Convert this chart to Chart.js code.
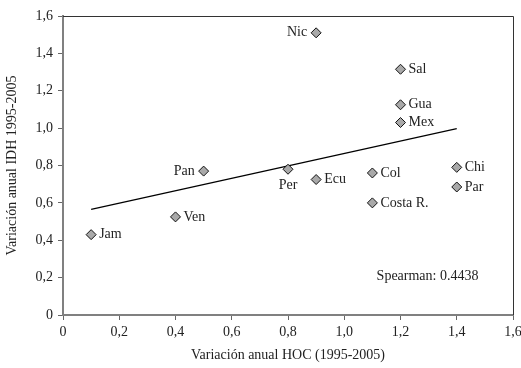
<!DOCTYPE html>
<html>
<head>
<meta charset="utf-8">
<script src="https://cdn.jsdelivr.net/npm/chart.js@4/dist/chart.umd.min.js"></script>
<style>
  html, body { margin: 0; padding: 0; background: #fff; }
  #wrap { width: 521px; height: 368px; position: relative; }
</style>
</head>
<body>
<div id="wrap"><canvas id="idhChart"></canvas></div>
<script>
'use strict';

// country labels, x = HOC annual variation, y = IDH annual variation
const countries = ['Nic', 'Sal', 'Gua', 'Mex', 'Pan', 'Per', 'Ecu', 'Col', 'Chi', 'Par', 'Costa R.', 'Ven', 'Jam'];
const hocValues = [0.9, 1.2, 1.2, 1.2, 0.5, 0.8, 0.9, 1.1, 1.4, 1.4, 1.1, 0.4, 0.1];
const idhValues = [1.51, 1.315, 1.125, 1.03, 0.77, 0.78, 0.725, 0.76, 0.79, 0.685, 0.60, 0.525, 0.43];
// where each label sits relative to its marker
const labelSides = ['left', 'right', 'right', 'right', 'left', 'below', 'right', 'right', 'right', 'right', 'right', 'right', 'right'];

const trendX = [0.1, 1.4];
const trendY = [0.565, 0.997];

const spearmanText = 'Spearman: 0.4438';

const serif = "'Liberation Serif', 'DejaVu Serif', serif";

function fmtTick(v) {
  if (v === 0) return '0';
  return v.toFixed(1).replace('.', ',');
}

const labelPlugin = {
  id: 'pointLabels',
  afterDatasetsDraw(chart) {
    const ctx = chart.ctx;
    const xs = chart.scales.x;
    const ys = chart.scales.y;
    ctx.save();
    ctx.font = '14px ' + serif;
    ctx.fillStyle = '#222';
    ctx.textBaseline = 'middle';
    countries.forEach(function (name, i) {
      const px = xs.getPixelForValue(hocValues[i]);
      const py = ys.getPixelForValue(idhValues[i]);
      if (labelSides[i] === 'left') {
        ctx.textAlign = 'right';
        ctx.fillText(name, px - 9, py);
      } else if (labelSides[i] === 'below') {
        ctx.textAlign = 'center';
        ctx.fillText(name, px, py + 16);
      } else {
        ctx.textAlign = 'left';
        ctx.fillText(name, px + 8, py);
      }
    });
    ctx.textAlign = 'left';
    ctx.fillText(spearmanText, xs.getPixelForValue(1.115), ys.getPixelForValue(0.205));
    // thin frame on top and right
    const a = chart.chartArea;
    ctx.strokeStyle = '#333';
    ctx.lineWidth = 1;
    ctx.beginPath();
    ctx.moveTo(a.left, a.top + 0.5);
    ctx.lineTo(a.right + 0.5, a.top + 0.5);
    ctx.lineTo(a.right + 0.5, a.bottom);
    ctx.stroke();
    ctx.restore();
  }
};

let scatterPoints = hocValues.map(function (x, i) { return { x: x, y: idhValues[i] }; });
let trendPoints = trendX.map(function (x, i) { return { x: x, y: trendY[i] }; });

let chartObject = {
  type: 'scatter',
  data: {
    datasets: [{
      label: 'Tendencia',
      data: trendPoints,
      showLine: true,
      borderColor: '#000',
      borderWidth: 1.2,
      pointRadius: 0,
      order: 2
    }, {
      label: 'Países',
      data: scatterPoints,
      pointStyle: 'rectRot',
      pointRadius: 5,
      backgroundColor: '#a9a9a9',
      borderColor: '#111',
      borderWidth: 1,
      order: 1
    }]
  },
  options: {
    responsive: true,
    maintainAspectRatio: false,
    animation: false,
    layout: { padding: { top: 16, right: 8, bottom: 0, left: 0 } },
    plugins: {
      legend: { display: false },
      tooltip: { enabled: false }
    },
    scales: {
      x: {
        type: 'linear',
        min: 0,
        max: 1.6,
        ticks: {
          stepSize: 0.2,
          color: '#222',
          font: { family: serif, size: 14 },
          padding: 4,
          maxRotation: 0,
          callback: fmtTick
        },
        grid: { drawOnChartArea: false, drawTicks: true, tickLength: 5, color: '#666' },
        border: { color: '#808080', width: 2 },
        title: {
          display: true,
          text: 'Variación anual HOC (1995-2005)',
          color: '#222',
          font: { family: serif, size: 14 },
          padding: { top: 4, bottom: 4 }
        },
        afterFit(scale) {
          scale.height = 53;
          scale.paddingRight = 0;
          scale.paddingLeft = 0;
        }
      },
      y: {
        type: 'linear',
        min: 0,
        max: 1.6,
        ticks: {
          stepSize: 0.2,
          color: '#222',
          font: { family: serif, size: 14 },
          padding: 5,
          callback: fmtTick
        },
        grid: { drawOnChartArea: false, drawTicks: true, tickLength: 5, color: '#666' },
        border: { color: '#808080', width: 2 },
        title: {
          display: true,
          text: 'Variación anual IDH 1995-2005',
          color: '#222',
          font: { family: serif, size: 14 },
          padding: { top: 4, bottom: 4 }
        },
        afterFit(scale) { scale.width = 63; }
      }
    }
  },
  plugins: [labelPlugin]
};

let ctx = document.getElementById('idhChart').getContext('2d');
let myChart = new Chart(ctx, chartObject);
</script>
</body>
</html>
